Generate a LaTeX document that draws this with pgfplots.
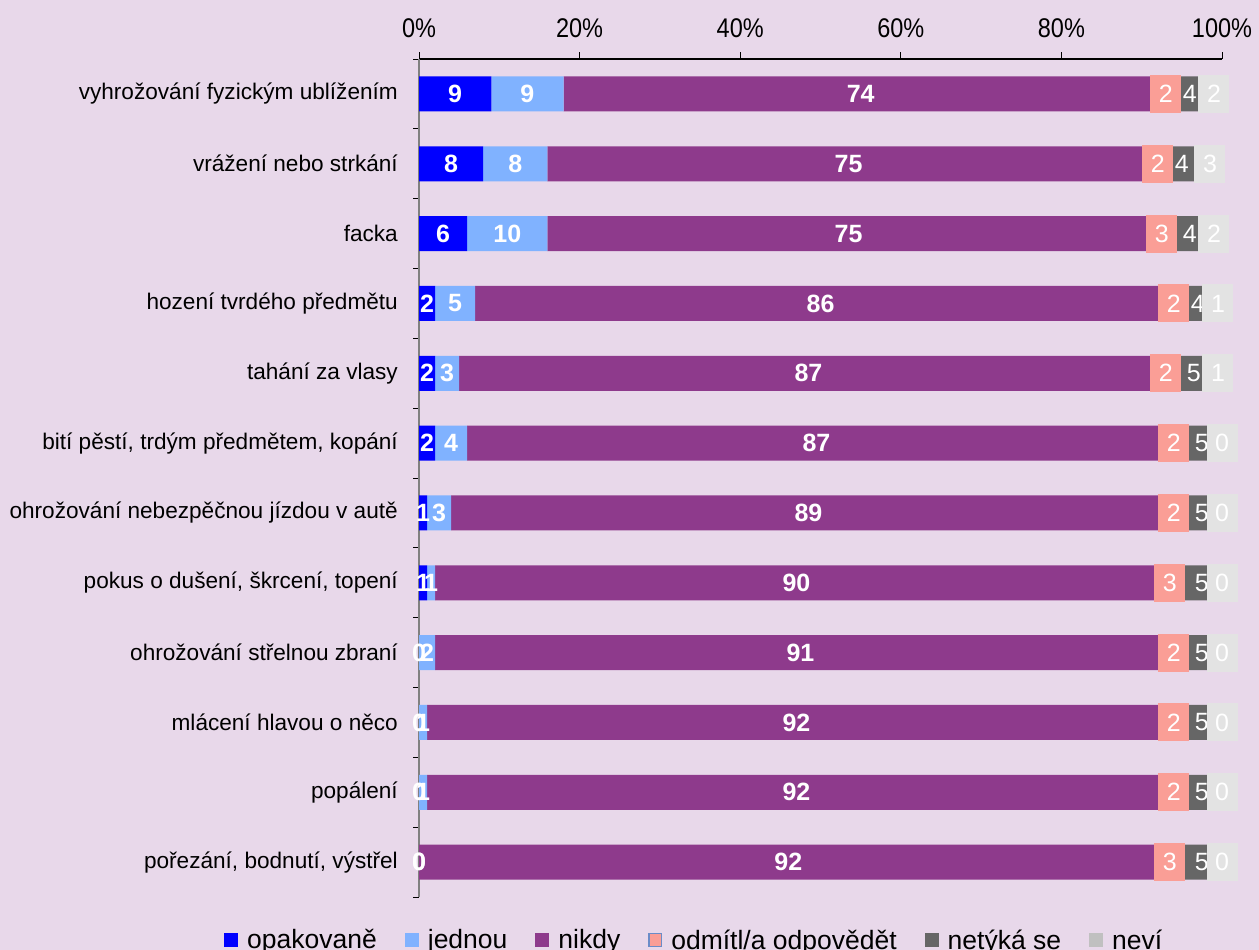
\documentclass[border=0pt]{standalone}
\usepackage{fontspec}
\setmainfont{Liberation Sans}
\newfontfamily\narrowfont{Liberation Sans}[FakeStretch=0.87]
\usepackage{pgfplots}
\pgfplotsset{compat=1.18}
\usepackage{pgfplotstable}
\definecolor{bg}{HTML}{E8D8EA}
\definecolor{opak}{HTML}{0000FF}
\definecolor{jedn}{HTML}{80B2FF}
\definecolor{nikd}{HTML}{8E3A8C}
\definecolor{odm}{HTML}{FA9E96}
\definecolor{net}{HTML}{666666}
\definecolor{nevi}{HTML}{C0C0C0}
\definecolor{nevibox}{HTML}{E3E3E3}
\definecolor{odmborder}{HTML}{6A8CC8}

\pgfplotstableread{
idx o j n od nt nv
0 9 9 74 2 4 2
1 8 8 75 2 4 3
2 6 10 75 3 4 2
3 2 5 86 2 4 1
4 2 3 87 2 5 1
5 2 4 87 2 5 0
6 1 3 89 2 5 0
7 1 1 90 3 5 0
8 0 2 91 2 5 0
9 0 1 92 2 5 0
10 0 1 92 2 5 0
11 0 0 92 3 5 0
}\data

\pgfplotsset{
  /pgf/number format/assume math mode=true,
  geom/.style={
    width=803bp, height=838bp, scale only axis,
    at={(419bp,53bp)}, anchor=south west,
    xmin=0, xmax=100, ymin=-0.5, ymax=11.5, y dir=reverse,
    enlargelimits=false,
  },
  lab/.style={only marks, mark=none, point meta=explicit, nodes near coords,
    nodes near coords style={anchor=center, inner sep=0pt, text=white, font=\fontsize{25bp}{28bp}\selectfont}},
  boldlab/.style={lab, nodes near coords style={font=\bfseries\fontsize{25bp}{28bp}\selectfont}},
  boxlab/.style={lab, nodes near coords style={fill=#1, minimum width=31bp, minimum height=38bp}},
}

\begin{document}
\begin{tikzpicture}
\fill[bg] (0,0) rectangle (1259bp,950bp);
\useasboundingbox (0,0) rectangle (1259bp,950bp);
\begin{axis}[geom, xbar stacked, bar width=35bp,
  axis x line*=top, axis y line*=left,
  xtick={0,20,...,100},
  xticklabel={\pgfmathprintnumber{\tick}\%},
  xticklabel style={font=\narrowfont\fontsize{27bp}{30bp}\selectfont, inner sep=0pt, yshift=14bp},
  ytick={0,...,11},
  yticklabels={vyhrožování fyzickým ublížením, vrážení nebo strkání, facka, hození tvrdého předmětu, tahání za vlasy, {bití pěstí, trdým předmětem, kopání}, ohrožování nebezpěčnou jízdou v autě, {pokus o dušení, škrcení, topení}, ohrožování střelnou zbraní, mlácení hlavou o něco, popálení, {pořezání, bodnutí, výstřel}},
  yticklabel style={font=\fontsize{22.6bp}{26bp}\selectfont, inner sep=0pt, anchor=east, xshift=-14bp},
  major y tick style={draw=none},
  minor ytick={-0.5,0.5,...,11.5},
  tick align=outside,
  major tick length=7bp, minor tick length=6bp,
  tick style={black, line width=1bp},
  x axis line style={black, line width=1.2bp},
  y axis line style={gray, line width=1.2bp},
  legend columns=6,
  legend style={draw=none, fill=none, at={(axis description cs:-0.2428,-0.0513)}, anchor=west,
    font=\fontsize{26.5bp}{29bp}\selectfont, inner sep=0pt,
    /tikz/every odd column/.append style={column sep=7bp},
    /tikz/every even column/.append style={column sep=26bp}},
  legend image code/.code={\fill[#1] (0bp,-7bp) rectangle (14bp,7bp);},
]
\addplot[fill=opak, draw=none] table[x=o, y=idx]{\data};
\addlegendentry{opakovaně}
\addplot[fill=jedn, draw=none] table[x=j, y=idx]{\data};
\addlegendentry{jednou}
\addplot[fill=nikd, draw=none] table[x=n, y=idx]{\data};
\addlegendentry{nikdy}
\addplot[fill=odm, draw=none, legend image code/.code={\filldraw[fill=odm, draw=odmborder, line width=1.5bp] (0.75bp,-6.25bp) rectangle (13.25bp,6.25bp);}] table[x=od, y=idx]{\data};
\addlegendentry{odmítl/a odpovědět}
\addplot[fill=net, draw=none] table[x=nt, y=idx]{\data};
\addlegendentry{netýká se}
\addplot[fill=nevi, draw=none] table[x=nv, y=idx]{\data};
\addlegendentry{neví}
\end{axis}
\begin{axis}[geom, hide axis, clip=false]
\addplot[boldlab] table[x expr=\thisrow{o}/2, y=idx, meta=o]{\data};
\addplot[boldlab] table[x expr=\thisrow{o}+\thisrow{j}/2, y=idx, meta=j]{\data};
\addplot[boldlab] table[x expr=\thisrow{o}+\thisrow{j}+\thisrow{n}/2, y=idx, meta=n]{\data};
\addplot[boxlab=odm] table[x expr=\thisrow{o}+\thisrow{j}+\thisrow{n}+\thisrow{od}/2, y=idx, meta=od]{\data};
\addplot[lab] table[x expr=\thisrow{o}+\thisrow{j}+\thisrow{n}+\thisrow{od}+\thisrow{nt}/2, y=idx, meta=nt]{\data};
\addplot[boxlab=nevibox] table[x expr=\thisrow{o}+\thisrow{j}+\thisrow{n}+\thisrow{od}+\thisrow{nt}+\thisrow{nv}/2, y=idx, meta=nv]{\data};
\end{axis}
\end{tikzpicture}
\end{document}
